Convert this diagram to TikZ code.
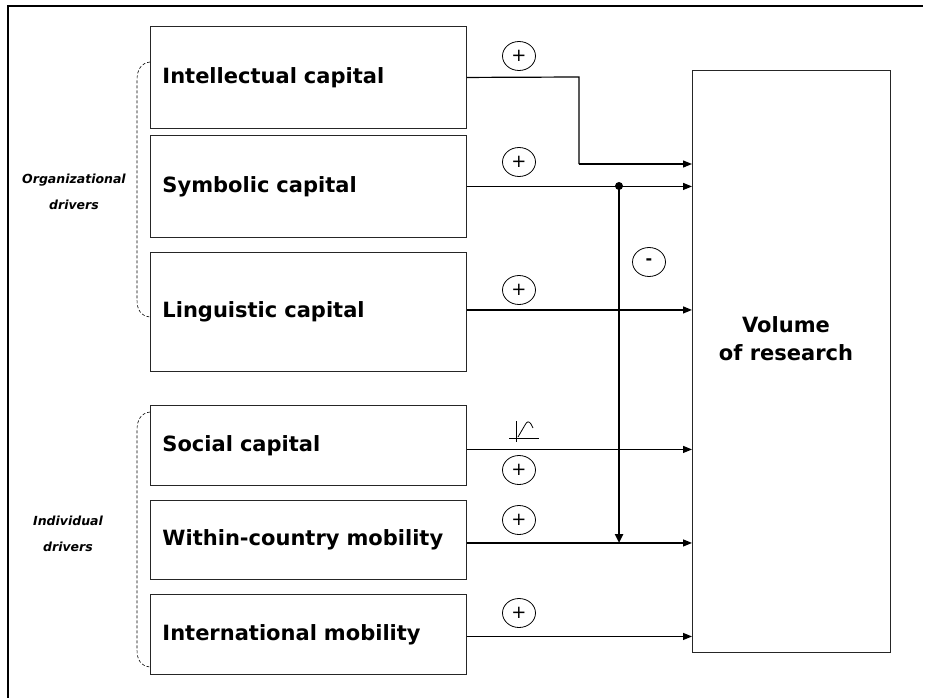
\documentclass[tikz,border=0pt]{standalone}
\usepackage{fontspec}
\setmainfont{DejaVu Sans}
\usetikzlibrary{arrows.meta,shapes.geometric}
\begin{document}
\begin{tikzpicture}[x=1pt,y=-1pt,
  capbox/.style={draw=black!85,line width=0.9pt,rectangle,anchor=north west,
    minimum width=316pt,text width=292pt,inner xsep=12pt,align=left,
    font=\fontsize{21}{25}\selectfont\bfseries},
  sign/.style={draw,ellipse,minimum width=33pt,minimum height=29pt,inner sep=0pt,
    line width=0.8pt,font=\fontsize{18}{18}\selectfont},
  flow/.style={line width=1.2pt,-{Triangle[length=9pt,width=7pt]}},
  brace/.style={line width=0.6pt,dash pattern=on 3pt off 2pt},
  grouplabel/.style={align=center,font=\fontsize{12.5}{26}\selectfont\bfseries\itshape}]
\useasboundingbox (0,0) rectangle (928,698);

% outer frame (top and left edges)
\draw[line width=2.6pt] (8,698) -- (8,6) -- (923,6);

% driver boxes
\node[capbox,minimum height=102pt] (ic) at (150,26) {Intellectual capital};
\node[capbox,minimum height=102pt] (sc) at (150,135) {Symbolic capital};
\node[capbox,minimum height=119pt] (lc) at (150,252) {Linguistic capital};
\node[capbox,minimum height=80pt]  (so) at (150,405) {Social capital};
\node[capbox,minimum height=79pt]  (wm) at (150,500) {Within-country mobility};
\node[capbox,minimum height=80pt]  (im) at (150,594) {International mobility};

% outcome box
\node[draw=black!85,line width=0.9pt,rectangle,anchor=north west,
  minimum width=198pt,minimum height=582pt] (vol) at (692,70) {};
\node[align=center,font=\fontsize{21}{28}\selectfont\bfseries] (voltxt) at (786,339)
  {Volume\\of research};

% link start points on the driver boxes
\coordinate (lcout) at ([yshift=2pt]lc.east);
\coordinate (soout) at ([yshift=-4pt]so.east);
\coordinate (wmout) at ([yshift=-3pt]wm.east);
\coordinate (imout) at ([yshift=-2pt]im.east);

% connectors into the outcome box
\coordinate (bend1) at (579,77);
\coordinate (bend2) at (579,164);
\draw[line width=1.2pt] (ic.east) -- (bend1) -- (bend2);
\draw[flow] (bend2) -- (vol.west |- bend2);
\draw[flow] (sc.east) -- (vol.west |- sc.east);
\draw[flow] (lcout) -- (vol.west |- lcout);
\draw[flow] (soout) -- (vol.west |- soout);
\draw[flow] (wmout) -- (vol.west |- wmout);
\draw[flow] (imout) -- (vol.west |- imout);

% negative moderation from symbolic capital
\coordinate (split) at (619,186);
\coordinate (land) at (619,543);
\fill (split) circle (4pt);
\draw[line width=2.6pt,-{Triangle[length=9pt,width=8pt]}] (split) -- (land);

% signs
\node[sign] (p1) at (519,56) {+};
\node[sign] (p2) at (519,162) {+};
\node[sign] (p3) at (519,290) {+};
\node[sign] (p4) at (519,470) {+};
\node[sign] (p5) at (519,520) {+};
\node[sign] (p6) at (519,613) {+};
\node[sign,font=\fontsize{16}{16}\selectfont\bfseries] (m1) at (649,262) {-};

% threshold glyph above the social capital link
\draw[line width=0.8pt] (509,438) -- (539,438);
\draw[line width=0.8pt] (516,421) -- (516,442);
\draw[line width=0.8pt] (518,437) -- (525,425) .. controls (527,421) and (529,421) .. (531,424) -- (533,428);

% group braces
\draw[brace] (150,62) .. controls (141,63) and (137,70) .. (137,80) -- (137,300)
  .. controls (137,310) and (141,316) .. (150,317);
\draw[brace] (150,412) .. controls (141,413) and (137,420) .. (137,430) -- (137,650)
  .. controls (137,660) and (141,666) .. (150,667);

% group labels
\node[grouplabel] (orglab) at (74,192) {Organizational\\drivers};
\node[grouplabel] (indlab) at (68,534) {Individual\\drivers};
\end{tikzpicture}
\end{document}
